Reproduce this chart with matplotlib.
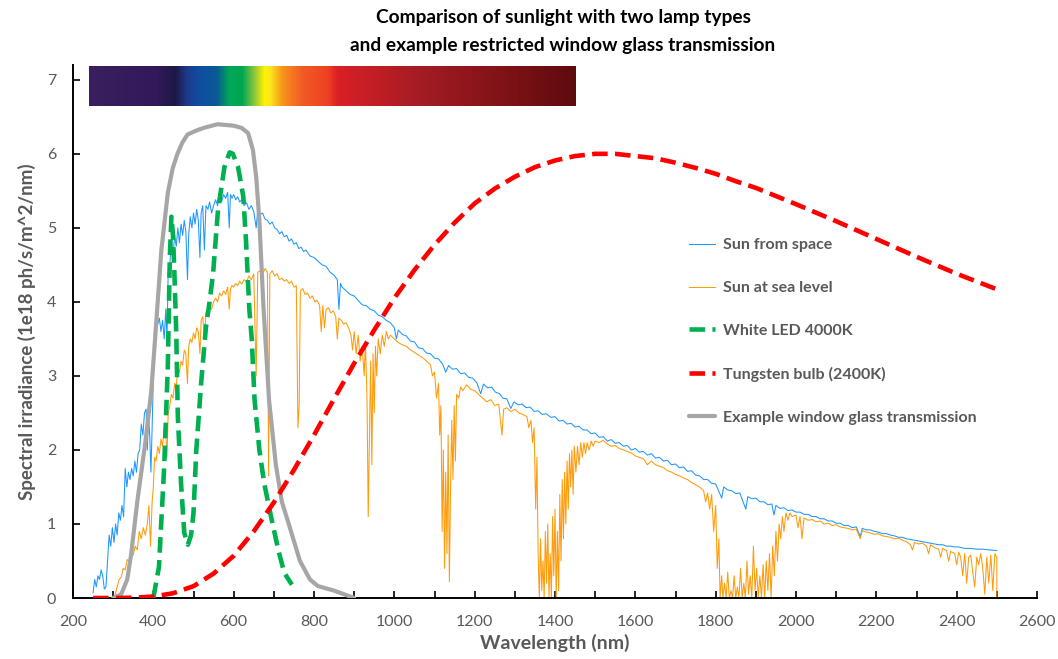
import matplotlib
matplotlib.use("Agg")
import matplotlib.pyplot as plt
import numpy as np
from matplotlib.colors import LinearSegmentedColormap

plt.rcParams['font.family'] = ['Lato', 'DejaVu Sans']

# ---- data (wavelength nm, 1e18 ph/s/m^2/nm) ----
sun_space = [
    (250, 0.07), (254, 0.25), (258, 0.15), (262, 0.3), (266, 0.25), (270, 0.38), (274, 0.3),
    (278, 0.12), (282, 0.15), (286, 0.5), (290, 0.85), (294, 0.7), (298, 0.95), (302, 0.75),
    (306, 1.0), (310, 0.85), (314, 1.15), (318, 1.05), (322, 1.25), (326, 1.1), (330, 1.75),
    (334, 1.5), (338, 1.7), (342, 1.6), (346, 1.75), (350, 1.65), (354, 1.85), (358, 1.7),
    (362, 1.95), (366, 2.0), (370, 2.35), (374, 2.2), (378, 2.5), (382, 2.55), (385, 2.0),
    (388, 2.45), (391, 2.2), (394, 1.7), (397, 2.3), (400, 3.0), (403, 3.65), (407, 3.8),
    (411, 3.7), (415, 3.78), (419, 3.6), (423, 3.75), (427, 3.5), (431, 3.9), (434, 3.5),
    (437, 4.4), (441, 4.5), (445, 4.85), (449, 4.6), (453, 4.9), (457, 4.75), (461, 5.0),
    (465, 4.8), (469, 5.05), (473, 4.9), (477, 5.1), (481, 4.95), (485, 4.3), (488, 4.9),
    (492, 5.15), (496, 5.0), (500, 5.2), (504, 5.05), (508, 5.25), (512, 5.1), (516, 4.6),
    (519, 5.2), (523, 5.3), (527, 4.7), (531, 5.3), (536, 5.25), (540, 5.35), (545, 5.2),
    (550, 5.3), (555, 5.38), (560, 5.3), (565, 5.42), (570, 5.35), (575, 5.45), (580, 5.4),
    (585, 5.48), (589, 5.0), (592, 5.45), (596, 5.4), (600, 5.45), (605, 5.38), (610, 5.42),
    (615, 5.35), (620, 5.38), (626, 5.3), (632, 5.34), (638, 5.25), (644, 5.3), (650, 5.22),
    (656, 5.0), (660, 5.24), (666, 5.18), (672, 5.2), (678, 5.12), (684, 5.1), (690, 5.05),
    (696, 5.08), (702, 5.0), (708, 4.98), (714, 4.92), (720, 4.95), (726, 4.88), (732, 4.9),
    (738, 4.82), (744, 4.85), (750, 4.78), (756, 4.8), (762, 4.72), (768, 4.74), (774, 4.68),
    (780, 4.7), (790, 4.62), (800, 4.6), (810, 4.55), (820, 4.5), (830, 4.48), (840, 4.4),
    (850, 4.36), (858, 4.3), (862, 3.9), (866, 4.25), (870, 4.2), (880, 4.15), (890, 4.1),
    (900, 4.08), (910, 4.02), (920, 3.96), (930, 3.95), (940, 3.9), (950, 3.88), (960, 3.82),
    (970, 3.8), (980, 3.75), (990, 3.72), (1000, 3.65), (1005, 3.5), (1010, 3.62), (1020, 3.56),
    (1030, 3.54), (1040, 3.47), (1050, 3.46), (1060, 3.38), (1070, 3.37), (1080, 3.31),
    (1090, 3.3), (1100, 3.24), (1110, 3.23), (1120, 3.16), (1128, 3.05), (1135, 3.14),
    (1145, 3.09), (1155, 3.1), (1165, 3.03), (1175, 3.04), (1185, 2.98), (1195, 2.97),
    (1205, 2.91), (1215, 2.76), (1222, 2.89), (1232, 2.84), (1242, 2.85), (1252, 2.78),
    (1262, 2.76), (1270, 2.7), (1280, 2.69), (1290, 2.56), (1298, 2.65), (1308, 2.61),
    (1318, 2.62), (1328, 2.57), (1338, 2.58), (1348, 2.52), (1358, 2.53), (1368, 2.48),
    (1378, 2.49), (1390, 2.44), (1400, 2.45), (1410, 2.39), (1420, 2.4), (1430, 2.35),
    (1440, 2.36), (1450, 2.31), (1460, 2.32), (1470, 2.27), (1480, 2.27), (1490, 2.22),
    (1500, 2.23), (1510, 2.17), (1520, 2.18), (1530, 2.12), (1540, 2.14), (1550, 2.09),
    (1560, 2.1), (1570, 2.05), (1580, 2.06), (1590, 2.0), (1600, 2.02), (1610, 1.97),
    (1620, 1.98), (1630, 1.93), (1640, 1.95), (1650, 1.89), (1660, 1.9), (1670, 1.85),
    (1680, 1.86), (1690, 1.8), (1700, 1.81), (1710, 1.76), (1720, 1.77), (1730, 1.71),
    (1740, 1.72), (1750, 1.66), (1760, 1.65), (1770, 1.6), (1780, 1.6), (1790, 1.55),
    (1800, 1.54), (1815, 1.35), (1820, 1.5), (1830, 1.46), (1840, 1.45), (1850, 1.41),
    (1860, 1.42), (1875, 1.2), (1880, 1.37), (1890, 1.34), (1900, 1.35), (1910, 1.3),
    (1920, 1.3), (1930, 1.26), (1940, 1.27), (1945, 1.12), (1950, 1.25), (1960, 1.21),
    (1970, 1.22), (1980, 1.18), (1990, 1.19), (2000, 1.16), (2010, 1.16), (2020, 1.13),
    (2030, 1.13), (2040, 1.1), (2050, 1.1), (2060, 1.07), (2070, 1.07), (2080, 1.04),
    (2090, 1.04), (2100, 1.01), (2110, 1.01), (2120, 0.98), (2130, 0.98), (2140, 0.95),
    (2150, 0.96), (2160, 0.83), (2165, 0.94), (2175, 0.92), (2185, 0.92), (2195, 0.9),
    (2205, 0.89), (2215, 0.87), (2225, 0.87), (2235, 0.85), (2245, 0.84), (2255, 0.82),
    (2265, 0.82), (2275, 0.8), (2285, 0.79), (2295, 0.78), (2305, 0.77), (2315, 0.76),
    (2325, 0.75), (2335, 0.74), (2345, 0.73), (2355, 0.72), (2365, 0.72), (2375, 0.7),
    (2385, 0.7), (2395, 0.69), (2405, 0.69), (2420, 0.67), (2435, 0.67), (2450, 0.66),
    (2465, 0.66), (2480, 0.65), (2500, 0.64),
]

sun_sea = [
    (295, 0.0), (300, 0.0), (305, 0.05), (310, 0.15), (315, 0.25), (320, 0.28), (325, 0.4),
    (330, 0.38), (335, 0.52), (340, 0.48), (345, 0.62), (350, 0.58), (355, 0.7), (360, 0.65),
    (365, 0.9), (370, 0.8), (375, 0.95), (380, 0.85), (385, 1.0), (389, 1.25), (393, 0.7),
    (397, 1.3), (400, 1.5), (403, 1.9), (407, 1.85), (411, 2.05), (415, 1.95), (419, 2.15),
    (423, 2.05), (427, 2.3), (431, 2.2), (434, 1.9), (437, 2.5), (441, 2.6), (445, 2.75),
    (449, 2.7), (453, 2.9), (457, 2.85), (461, 3.1), (465, 3.05), (469, 3.2), (473, 3.15),
    (477, 3.35), (481, 3.3), (485, 2.9), (488, 3.4), (492, 3.5), (496, 3.45), (500, 3.58),
    (504, 3.5), (508, 3.65), (512, 3.6), (516, 3.3), (519, 3.75), (523, 3.8), (527, 3.5),
    (531, 3.85), (536, 3.9), (540, 3.95), (545, 3.9), (550, 4.0), (555, 4.05), (560, 4.0),
    (565, 4.12), (570, 4.08), (575, 4.15), (580, 4.1), (585, 4.2), (589, 3.9), (592, 4.18),
    (596, 4.22), (600, 4.2), (605, 4.25), (610, 4.22), (615, 4.28), (620, 4.24), (626, 4.3),
    (632, 4.27), (638, 4.35), (644, 4.3), (650, 4.38), (656, 3.0), (660, 4.4), (666, 4.42),
    (672, 4.38), (678, 4.45), (684, 4.4), (687, 1.65), (690, 4.38), (696, 4.42), (702, 4.35),
    (708, 4.38), (714, 4.3), (720, 4.32), (726, 4.28), (732, 4.3), (738, 4.25), (744, 4.28),
    (750, 4.2), (756, 4.22), (760, 2.3), (763, 2.6), (766, 4.15), (772, 4.18), (778, 4.1),
    (784, 4.12), (790, 4.05), (796, 4.08), (802, 4.0), (808, 4.02), (814, 3.95), (818, 3.6),
    (822, 3.95), (826, 3.65), (830, 3.9), (836, 3.92), (842, 3.85), (848, 3.88), (854, 3.8),
    (858, 3.5), (862, 3.78), (868, 3.75), (874, 3.7), (880, 3.72), (886, 3.65), (892, 3.55),
    (896, 3.35), (900, 3.6), (905, 3.3), (910, 3.55), (915, 3.2), (920, 3.4), (925, 3.0),
    (928, 3.45), (932, 2.7), (935, 1.1), (938, 2.2), (941, 3.2), (944, 1.8), (947, 3.3),
    (950, 2.5), (953, 3.4), (956, 3.0), (960, 3.5), (965, 3.3), (970, 3.55), (975, 3.4),
    (980, 3.6), (985, 3.5), (990, 3.55), (1000, 3.5), (1010, 3.45), (1020, 3.42), (1030, 3.4),
    (1040, 3.35), (1050, 3.32), (1060, 3.28), (1070, 3.25), (1080, 3.2), (1090, 3.15),
    (1095, 3.0), (1100, 3.05), (1105, 2.7), (1110, 2.9), (1113, 2.2), (1116, 2.6), (1119, 0.9),
    (1122, 2.0), (1125, 0.4), (1128, 1.7), (1131, 0.6), (1134, 2.2), (1137, 0.22), (1140, 1.5),
    (1143, 2.4), (1146, 1.6), (1149, 2.6), (1152, 1.85), (1155, 2.75), (1160, 2.7), (1165, 2.85),
    (1170, 2.8), (1180, 2.88), (1190, 2.82), (1200, 2.8), (1210, 2.75), (1220, 2.7), (1230, 2.65),
    (1240, 2.68), (1250, 2.6), (1260, 2.62), (1268, 2.2), (1272, 2.55), (1280, 2.57),
    (1290, 2.52), (1300, 2.55), (1310, 2.5), (1320, 2.48), (1330, 2.45), (1335, 2.3), (1340, 2.4),
    (1344, 2.1), (1348, 2.3), (1352, 1.2), (1355, 1.9), (1358, 0.6), (1361, 0.0), (1364, 0.8),
    (1367, 0.1), (1370, 0.5), (1373, 0.0), (1376, 0.9), (1379, 0.2), (1382, 1.0), (1385, 0.0),
    (1388, 0.6), (1391, 0.0), (1394, 1.1), (1397, 0.3), (1400, 1.2), (1403, 0.0), (1406, 0.9),
    (1409, 0.1), (1412, 1.4), (1415, 0.5), (1418, 1.6), (1421, 0.8), (1424, 1.7), (1427, 1.0),
    (1430, 1.85), (1433, 1.2), (1436, 1.95), (1439, 1.5), (1442, 2.0), (1445, 1.4), (1448, 2.05),
    (1452, 1.7), (1456, 2.05), (1460, 1.8), (1464, 2.1), (1468, 1.9), (1472, 2.1), (1476, 1.95),
    (1480, 2.1), (1485, 2.0), (1490, 2.12), (1495, 2.05), (1500, 2.12), (1510, 2.1), (1520, 2.13),
    (1530, 2.08), (1540, 2.05), (1550, 2.06), (1560, 2.02), (1570, 2.0), (1580, 1.98),
    (1590, 1.96), (1600, 1.92), (1610, 1.9), (1620, 1.88), (1630, 1.8), (1640, 1.85), (1650, 1.8),
    (1660, 1.78), (1670, 1.76), (1680, 1.72), (1690, 1.7), (1700, 1.67), (1710, 1.65),
    (1720, 1.62), (1730, 1.6), (1740, 1.56), (1750, 1.53), (1760, 1.5), (1770, 1.45), (1775, 1.3),
    (1780, 1.42), (1785, 1.2), (1790, 1.4), (1795, 0.9), (1800, 1.25), (1804, 0.4), (1808, 0.8),
    (1811, 0.0), (1815, 0.3), (1818, 0.0), (1822, 0.2), (1826, 0.0), (1830, 0.35), (1834, 0.0),
    (1838, 0.1), (1842, 0.0), (1846, 0.3), (1850, 0.0), (1854, 0.15), (1858, 0.0), (1862, 0.4),
    (1866, 0.0), (1870, 0.2), (1874, 0.0), (1878, 0.5), (1882, 0.05), (1886, 0.3), (1890, 0.0),
    (1894, 0.7), (1898, 0.1), (1902, 0.4), (1906, 0.0), (1910, 0.3), (1914, 0.0), (1918, 0.45),
    (1922, 0.0), (1926, 0.5), (1930, 0.1), (1934, 0.6), (1938, 0.0), (1942, 0.7), (1946, 0.3),
    (1950, 0.9), (1954, 0.5), (1958, 1.0), (1962, 0.8), (1966, 1.1), (1970, 0.9), (1975, 1.15),
    (1980, 1.05), (1985, 1.15), (1990, 1.1), (2000, 1.12), (2005, 0.95), (2010, 1.1),
    (2015, 0.8), (2020, 1.08), (2030, 1.05), (2040, 1.06), (2050, 1.03), (2060, 1.04),
    (2070, 1.0), (2080, 1.01), (2090, 0.98), (2100, 0.99), (2110, 0.96), (2120, 0.95),
    (2130, 0.94), (2140, 0.92), (2150, 0.93), (2160, 0.8), (2165, 0.91), (2175, 0.89),
    (2185, 0.88), (2195, 0.86), (2205, 0.87), (2215, 0.84), (2225, 0.83), (2235, 0.82),
    (2245, 0.8), (2255, 0.81), (2265, 0.78), (2275, 0.76), (2285, 0.72), (2290, 0.65),
    (2295, 0.75), (2305, 0.73), (2315, 0.74), (2325, 0.7), (2330, 0.6), (2335, 0.72),
    (2345, 0.68), (2355, 0.66), (2360, 0.55), (2365, 0.67), (2375, 0.64), (2380, 0.5),
    (2385, 0.63), (2395, 0.6), (2400, 0.45), (2405, 0.62), (2410, 0.55), (2415, 0.3),
    (2420, 0.6), (2425, 0.2), (2430, 0.55), (2435, 0.58), (2440, 0.35), (2445, 0.15),
    (2450, 0.55), (2455, 0.45), (2460, 0.6), (2465, 0.4), (2470, 0.05), (2475, 0.55),
    (2480, 0.2), (2485, 0.58), (2490, 0.1), (2495, 0.6), (2500, 0.55), (2500, 0.0),
]

led_nm = [400, 414, 427, 436, 441, 445, 449, 453, 457, 461, 469, 477, 486, 494, 500, 507, 519,
          531, 540, 549, 561, 577, 590, 598, 611, 624, 631, 639, 645, 652, 664, 676, 693, 711,
          726, 745]
led_val = [0, 0.42, 1.77, 3.12, 4.6, 5.15, 4.9, 4.3, 3.6, 2.45, 1.55, 0.88, 0.72, 0.85, 1.15,
           2.0, 2.9, 3.66, 4.0, 4.4, 5.24, 5.82, 6.02, 6.0, 5.82, 5.42, 4.8, 3.9, 3.5, 2.68, 2.0,
           1.55, 1.1, 0.65, 0.34, 0.18]

tungsten_nm = [250, 300, 350, 400, 450, 500, 550, 600, 650, 700, 750, 800, 850, 900, 950, 1000,
               1050, 1100, 1150, 1200, 1250, 1300, 1350, 1400, 1450, 1500, 1550, 1600, 1650,
               1700, 1750, 1800, 1850, 1900, 1950, 2000, 2100, 2200, 2300, 2400, 2500]
tungsten_val = [0.0, 0.0, 0.004, 0.02, 0.065, 0.16, 0.33, 0.57, 0.9, 1.29, 1.73, 2.2, 2.69,
                3.17, 3.62, 4.05, 4.43, 4.77, 5.07, 5.33, 5.53, 5.69, 5.82, 5.91, 5.97, 6.0,
                6.0, 5.97, 5.94, 5.88, 5.81, 5.73, 5.63, 5.54, 5.43, 5.32, 5.09, 4.85, 4.61,
                4.38, 4.17]

glass_nm = [300, 320, 335, 345, 360, 380, 395, 407, 420, 436, 448, 460, 472, 485, 505, 525, 560,
            600, 620, 636, 648, 656, 664, 674, 688, 705, 720, 740, 765, 790, 810, 850, 900]
glass_val = [0, 0.05, 0.25, 0.6, 1.3, 2.1, 2.8, 3.7, 4.7, 5.47, 5.8, 6.0, 6.15, 6.26, 6.31,
             6.35, 6.4, 6.38, 6.35, 6.28, 6.05, 5.69, 5.1, 3.95, 2.68, 1.8, 1.3, 0.95, 0.5, 0.25,
             0.16, 0.1, 0.0]

bar_range = (240, 1450)
bar_stops = [(0.0, '#3b1f5e'), (0.138, '#33195a'), (0.176, '#1c1845'), (0.20, '#1e3a8a'),
             (0.228, '#0f4fa0'), (0.262, '#0a5a95'), (0.288, '#00a859'), (0.314, '#00a650'),
             (0.339, '#8dc63f'), (0.36, '#fff200'), (0.372, '#fde61a'), (0.397, '#f7941d'),
             (0.439, '#f15a24'), (0.49, '#ef4123'), (0.511, '#da1f26'), (0.677, '#a51c24'),
             (1.0, '#5f0b0d')]

grey_txt = '#595959'

fig = plt.figure(figsize=(10.58, 6.59), dpi=100)
ax = fig.add_axes([73 / 1058, 61 / 659, (1037 - 73) / 1058, (598 - 65) / 659])

ss = np.array(sun_space)
sl = np.array(sun_sea)
ax.plot(ss[:, 0], ss[:, 1], color='#1e96ff', lw=0.75, label='Sun from space', zorder=2)
ax.plot(sl[:, 0], sl[:, 1], color='#ff9a0a', lw=0.75, label='Sun at sea level', zorder=2)
ax.plot(led_nm, led_val, color='#00b050', lw=3.3, dashes=(3.4, 1.6),
        label='White LED 4000K', zorder=4)
ax.plot(tungsten_nm, tungsten_val, color='#ff0000', lw=3.3, dashes=(3.4, 1.6),
        label='Tungsten bulb (2400K)', zorder=5)
ax.plot(glass_nm, glass_val, color='#a6a6a6', lw=3.0, solid_capstyle='round',
        label='Example window glass transmission', zorder=3)

cmap = LinearSegmentedColormap.from_list('vis', bar_stops)
grad = np.linspace(0, 1, 512).reshape(1, -1)
ax.imshow(grad, cmap=cmap, aspect='auto', extent=[bar_range[0], bar_range[1], 6.65, 7.18],
          zorder=1, interpolation='bilinear')

ax.set_xlim(200, 2600)
ax.set_ylim(0, 7.2)
ax.set_xticks(np.arange(200, 2601, 200))
ax.set_xticks(np.arange(200, 2601, 100), minor=True)
ax.set_yticks(range(0, 8))
for s in ['top', 'right']:
    ax.spines[s].set_visible(False)
for s in ['left', 'bottom']:
    ax.spines[s].set_linewidth(1.4)
ax.tick_params(which='both', direction='in', length=5, width=1.2, colors='black',
               labelcolor=grey_txt, labelsize=11.5)
ax.tick_params(axis='x', pad=12)
ax.tick_params(axis='y', pad=12)

ax.set_xlabel('Wavelength (nm)', fontsize=14, fontweight='bold', color=grey_txt, labelpad=4)
ax.set_ylabel('Spectral irradiance (1e18 ph/s/m^2/nm)', fontsize=13.5, fontweight='bold',
              color=grey_txt, labelpad=8)

fig.text(563 / 1058, 1 - 18 / 659, 'Comparison of sunlight with two lamp types',
         ha='center', va='center', fontsize=13.8, fontweight='bold')
fig.text(563 / 1058, 1 - 45 / 659, 'and example restricted window glass transmission',
         ha='center', va='center', fontsize=13.8, fontweight='bold')

leg = ax.legend(loc='upper left', bbox_to_anchor=(681 / 1058, 1 - 230 / 659),
                bbox_transform=fig.transFigure, frameon=False, fontsize=11.5,
                handlelength=1.6, handletextpad=0.55, labelspacing=1.8, borderpad=0)
for t in leg.get_texts():
    t.set_color(grey_txt)
    t.set_fontweight('bold')

fig.savefig('out.png', dpi=100)
